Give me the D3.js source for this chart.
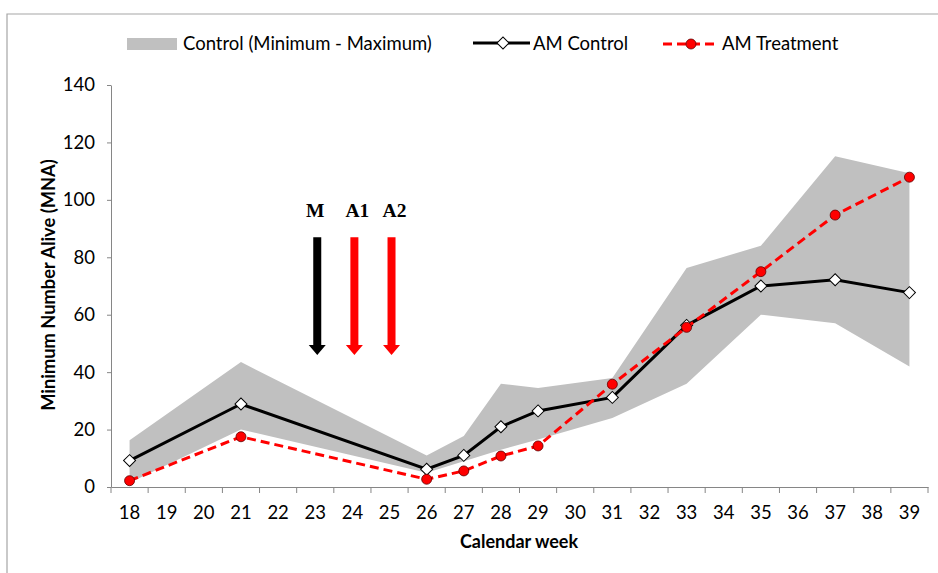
<!DOCTYPE html>
<html>
<head>
<meta charset="utf-8">
<script src="https://cdn.jsdelivr.net/npm/d3@7"></script>
<style>
  html, body { margin: 0; padding: 0; background: #fff; }
  svg { display: block; }
</style>
</head>
<body>
<svg id="chart" width="938" height="573" font-family="Lato, 'Open Sans', sans-serif"></svg>
<script>
// ---- data ----
const weeks = [18,19,20,21,22,23,24,25,26,27,28,29,30,31,32,33,34,35,36,37,38,39];
const obsWeeks = [18,21,26,27,28,29,31,33,35,37,39];
const controlMin = [1.5, 20, 5, 9, 13, 16.5, 24, 36, 60, 57, 42];
const controlMax = [16.3, 43.5, 11, 17.8, 36, 34.5, 38, 76.3, 84, 115.2, 109.3];
const amControl = [9.2, 28.9, 6.2, 11, 21, 26.5, 31.2, 56.3, 70, 72.2, 67.7];
const amTreatment = [2.2, 17.5, 2.7, 5.6, 10.8, 14.3, 35.8, 55.6, 75, 94.7, 107.9];
const yTicks = [0,20,40,60,80,100,120,140];
const arrowWeeks = [23,24,25];
const arrowLabels = ["M","A1","A2"];
const arrowColors = ["#000000","#ff0000","#ff0000"];
const arrowTop = 87, arrowBottom = 46;
const legendLabels = ["Control (Minimum - Maximum)", "AM Control", "AM Treatment"];

// ---- layout ----
const svg = d3.select("#chart");
const x = d3.scaleBand().domain(weeks).range([111, 928]);
const y = d3.scaleLinear().domain([0, 140]).range([487, 85]);
const cx = w => x(w) + x.bandwidth() / 2;
const axisColor = "#868686";
const fs = 18.5;

// chart border
svg.append("path").attr("d", "M7,573 V14 H938").attr("fill", "none")
  .attr("stroke", "#a6a6a6").attr("stroke-width", 1.2);

// band
const bandData = obsWeeks.map((w, i) => ({w, lo: controlMin[i], hi: controlMax[i]}));
svg.append("path").datum(bandData)
  .attr("d", d3.area().x(d => cx(d.w)).y0(d => y(d.lo)).y1(d => y(d.hi)))
  .attr("fill", "#c0c0c0");

// y axis
const yAxis = svg.append("g").attr("transform", "translate(111,0)")
  .call(d3.axisLeft(y).tickValues(yTicks).tickSize(4).tickPadding(12).tickSizeOuter(0));
yAxis.attr("font-family", null).attr("font-size", null);
yAxis.select(".domain").attr("stroke", axisColor);
yAxis.selectAll(".tick line").attr("stroke", axisColor);
yAxis.selectAll(".tick text").attr("font-size", fs).attr("fill", "#000");

// x axis
const xAxis = svg.append("g").attr("transform", "translate(0,487)")
  .call(d3.axisBottom(x).tickSize(0).tickPadding(19).tickSizeOuter(0));
xAxis.attr("font-family", null).attr("font-size", null);
xAxis.select(".domain").attr("stroke", axisColor);
xAxis.selectAll(".tick text").attr("font-size", fs).attr("fill", "#000");
// tick marks at band boundaries
const bounds = weeks.map(w => x(w)).concat([x(weeks[weeks.length-1]) + x.bandwidth()]);
svg.append("g").selectAll("line").data(bounds).join("line")
  .attr("x1", d => d).attr("x2", d => d).attr("y1", 487).attr("y2", 493)
  .attr("stroke", axisColor);

// axis titles
svg.append("text").attr("transform", "translate(55,285) rotate(-90)")
  .attr("text-anchor", "middle").attr("font-weight", "bold").attr("font-size", 18.3)
  .text("Minimum Number Alive (MNA)");
svg.append("text").attr("x", 519).attr("y", 548)
  .attr("text-anchor", "middle").attr("font-weight", "bold").attr("font-size", 18)
  .text("Calendar week");

// arrows
const arrowG = svg.append("g");
arrowWeeks.forEach((w, i) => {
  const ax = cx(w) + 2, top = y(arrowTop), bot = y(arrowBottom);
  const sw = 4, hw = 8.5, hl = 10;
  arrowG.append("path")
    .attr("d", `M${ax-sw},${top} H${ax+sw} V${bot-hl} H${ax+hw} L${ax},${bot} L${ax-hw},${bot-hl} H${ax-sw} Z`)
    .attr("fill", arrowColors[i]);
  arrowG.append("text").attr("x", ax + (i === 0 ? -2 : 3)).attr("y", 217)
    .attr("text-anchor", "middle").attr("font-family", "'Liberation Serif', 'Times New Roman', serif")
    .attr("font-weight", "bold").attr("font-size", 19.5).text(arrowLabels[i]);
});

// lines
const line = d3.line().x(d => cx(d.w)).y(d => y(d.v));
const ctrl = obsWeeks.map((w, i) => ({w, v: amControl[i]}));
const trt = obsWeeks.map((w, i) => ({w, v: amTreatment[i]}));
svg.append("path").datum(ctrl).attr("d", line).attr("fill", "none")
  .attr("stroke", "#000").attr("stroke-width", 3);
const diamond = d3.symbol().type(d3.symbolSquare).size(72);
svg.append("g").selectAll("path").data(ctrl).join("path")
  .attr("d", diamond).attr("transform", d => `translate(${cx(d.w)},${y(d.v)}) rotate(45)`)
  .attr("fill", "#fff").attr("stroke", "#000").attr("stroke-width", 1);
svg.append("path").datum(trt).attr("d", line).attr("fill", "none")
  .attr("stroke", "#ff0000").attr("stroke-width", 3).attr("stroke-dasharray", "9,5");
svg.append("g").selectAll("circle").data(trt).join("circle")
  .attr("cx", d => cx(d.w)).attr("cy", d => y(d.v)).attr("r", 5)
  .attr("fill", "#ff0000").attr("stroke", "#600000").attr("stroke-width", 0.8);

// legend
const lg = svg.append("g");
lg.append("rect").attr("x", 127).attr("y", 38).attr("width", 50).attr("height", 12).attr("fill", "#c0c0c0");
lg.append("text").attr("x", 183).attr("y", 50).attr("font-size", fs).text(legendLabels[0]);
lg.append("line").attr("x1", 473).attr("x2", 530).attr("y1", 43).attr("y2", 43)
  .attr("stroke", "#000").attr("stroke-width", 3);
lg.append("path").attr("d", diamond).attr("transform", "translate(503,43) rotate(45)")
  .attr("fill", "#fff").attr("stroke", "#000");
lg.append("text").attr("x", 533).attr("y", 50).attr("font-size", fs).text(legendLabels[1]);
lg.append("line").attr("x1", 663).attr("x2", 718).attr("y1", 44).attr("y2", 44)
  .attr("stroke", "#ff0000").attr("stroke-width", 3).attr("stroke-dasharray", "9,5");
lg.append("circle").attr("cx", 691).attr("cy", 44).attr("r", 5)
  .attr("fill", "#ff0000").attr("stroke", "#600000").attr("stroke-width", 0.8);
lg.append("text").attr("x", 722).attr("y", 50).attr("font-size", fs).text(legendLabels[2]);
</script>
</body>
</html>
